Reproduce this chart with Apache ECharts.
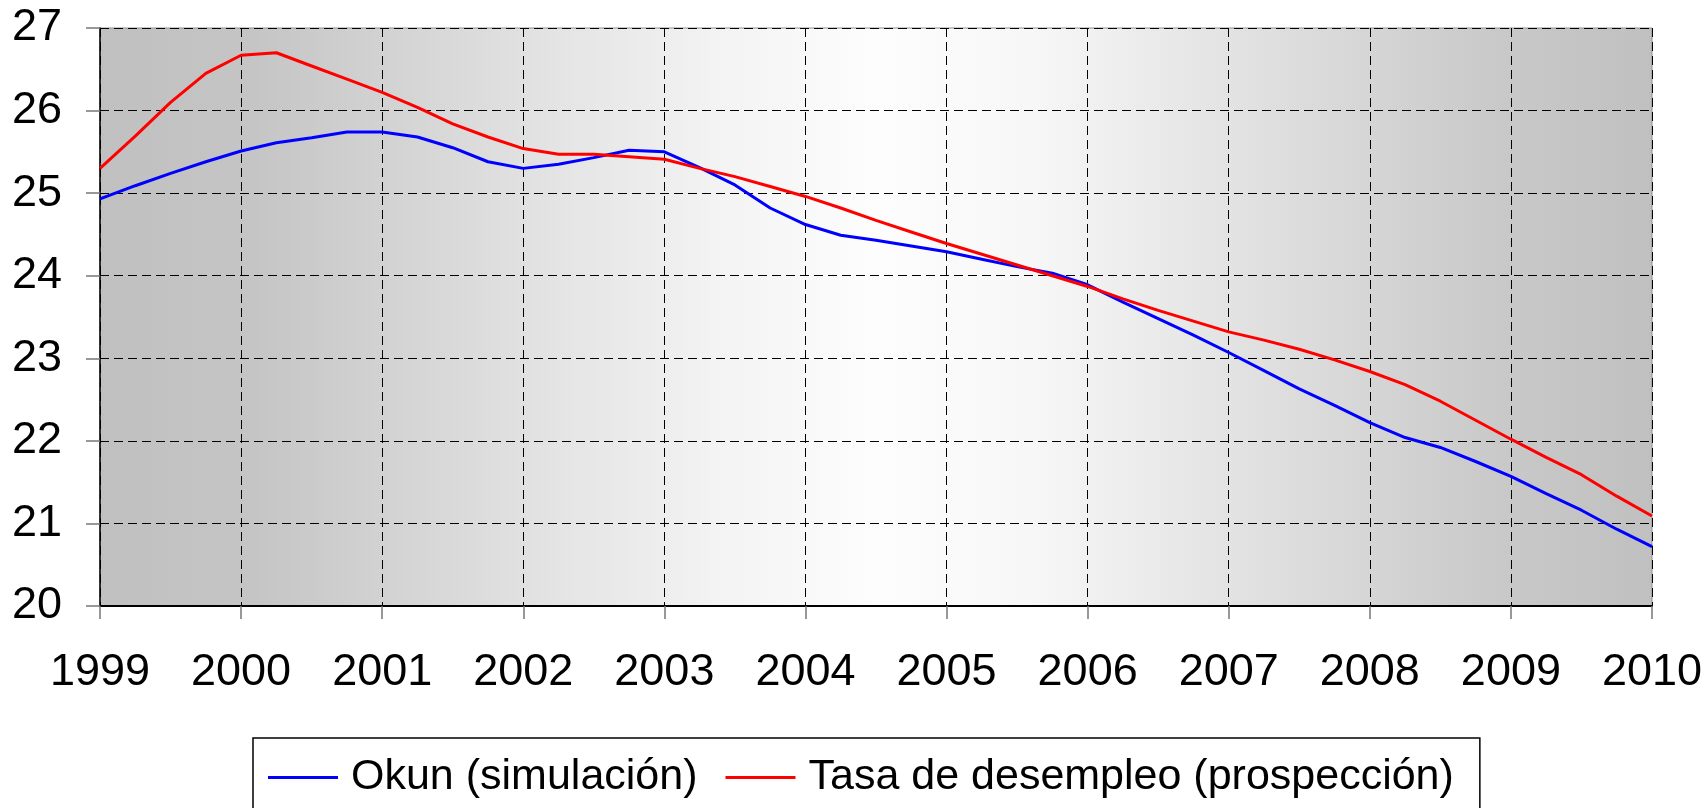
<!DOCTYPE html>
<html>
<head>
<meta charset="utf-8">
<script src="https://cdn.jsdelivr.net/npm/echarts@6/dist/echarts.min.js"></script>
<style>
  html, body { margin: 0; padding: 0; background: #fff; }
  #chart { width: 1708px; height: 808px; }
</style>
</head>
<body>
<div id="chart"></div>
<script>
// quarterly positions, 1999 .. 2010
const quarters = [
  1999, 1999.25, 1999.5, 1999.75,
  2000, 2000.25, 2000.5, 2000.75,
  2001, 2001.25, 2001.5, 2001.75,
  2002, 2002.25, 2002.5, 2002.75,
  2003, 2003.25, 2003.5, 2003.75,
  2004, 2004.25, 2004.5, 2004.75,
  2005, 2005.25, 2005.5, 2005.75,
  2006, 2006.25, 2006.5, 2006.75,
  2007, 2007.25, 2007.5, 2007.75,
  2008, 2008.25, 2008.5, 2008.75,
  2009, 2009.25, 2009.5, 2009.75,
  2010
]

const okun = [
  24.93, 25.09, 25.24, 25.38,
  25.51, 25.61, 25.67, 25.74,
  25.74, 25.68, 25.55, 25.38,
  25.30, 25.35, 25.43, 25.52,
  25.50, 25.31, 25.10, 24.82,
  24.62, 24.49, 24.43, 24.36,
  24.29, 24.20, 24.11, 24.03,
  23.89, 23.68, 23.48, 23.28,
  23.07, 22.85, 22.63, 22.43,
  22.22, 22.04, 21.92, 21.75,
  21.57, 21.36, 21.16, 20.93,
  20.72
]

const tasa = [
  25.30, 25.69, 26.10, 26.45,
  26.67, 26.70, 26.54, 26.38,
  26.22, 26.04, 25.84, 25.68,
  25.54, 25.47, 25.47, 25.44,
  25.41, 25.30, 25.20, 25.08,
  24.96, 24.82, 24.67, 24.53,
  24.39, 24.26, 24.13, 24.00,
  23.87, 23.72, 23.58, 23.45,
  23.32, 23.22, 23.11, 22.98,
  22.84, 22.68, 22.48, 22.25,
  22.02, 21.80, 21.59, 21.33,
  21.09
]

const seriesNames = ['Okun (simulación)', 'Tasa de desempleo (prospección)']

const font = "'Liberation Sans', Arial, sans-serif"
const pairs = (vals) => quarters.map((q, i) => [q, vals[i]])

const myChart = echarts.init(document.getElementById('chart'), null, { renderer: 'canvas' })

const gridLine = {
  show: true,
  lineStyle: { color: '#000', width: 1, type: [9, 5] }
}

myChart.setOption({
  animation: false,
  textStyle: { fontFamily: font },
  grid: {
    left: 100,
    top: 28,
    right: 56,
    bottom: 202,
    show: true,
    borderColor: '#909090',
    borderWidth: 1,
    backgroundColor: new echarts.graphic.LinearGradient(0, 0, 1, 0, [
      { offset: 0, color: '#c0c0c0' },
      { offset: 0.1, color: '#c5c5c5' },
      { offset: 0.2, color: '#d5d5d5' },
      { offset: 0.3, color: '#e5e5e5' },
      { offset: 0.4, color: '#f3f3f3' },
      { offset: 0.5, color: '#fdfdfd' },
      { offset: 0.6, color: '#f7f7f7' },
      { offset: 0.7, color: '#e7e7e7' },
      { offset: 0.8, color: '#d8d8d8' },
      { offset: 0.9, color: '#c9c9c9' },
      { offset: 1, color: '#c0c0c0' }
    ])
  },
  legend: {
    left: 253,
    top: 738,
    orient: 'horizontal',
    data: seriesNames,
    icon: 'rect',
    itemWidth: 70,
    itemHeight: 3,
    itemGap: 28,
    padding: [18, 26, 18, 15],
    borderColor: '#000',
    borderWidth: 1.5,
    backgroundColor: '#fff',
    textStyle: {
      fontFamily: font,
      fontSize: 43,
      color: '#000',
      padding: [0, 0, 0, 8]
    }
  },
  xAxis: {
    type: 'value',
    min: 1999,
    max: 2010,
    interval: 1,
    axisLine: { show: true, onZero: false, lineStyle: { color: '#000', width: 2 } },
    axisTick: { show: true, length: 13, lineStyle: { color: '#777', width: 1.5 } },
    axisLabel: {
      fontFamily: font,
      fontSize: 45,
      color: '#000',
      margin: 44,
      formatter: (v) => String(v)
    },
    splitLine: gridLine
  },
  yAxis: {
    type: 'value',
    min: 20,
    max: 27,
    interval: 1,
    axisLine: { show: true, lineStyle: { color: '#000', width: 1.5 } },
    axisTick: { show: true, length: 14, lineStyle: { color: '#777', width: 1.5 } },
    axisLabel: {
      fontFamily: font,
      fontSize: 45,
      color: '#000',
      margin: 38
    },
    splitLine: gridLine
  },
  series: [
    {
      name: seriesNames[0],
      type: 'line',
      symbol: 'none',
      data: pairs(okun),
      lineStyle: { color: '#0000ff', width: 3 },
      itemStyle: { color: '#0000ff' },
      z: 3
    },
    {
      name: seriesNames[1],
      type: 'line',
      symbol: 'none',
      data: pairs(tasa),
      lineStyle: { color: '#ff0000', width: 3 },
      itemStyle: { color: '#ff0000' },
      z: 4
    }
  ]
})
</script>
</body>
</html>
